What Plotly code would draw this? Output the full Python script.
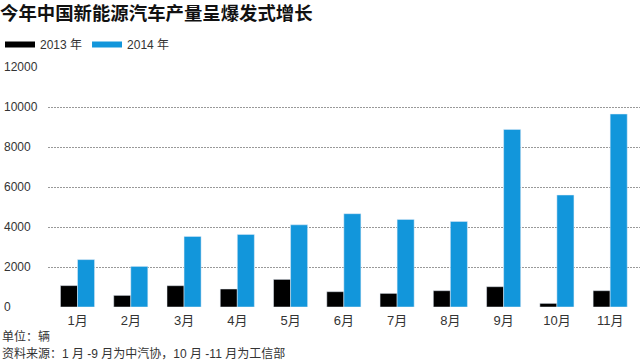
import plotly.graph_objects as go

months = ["1月", "2月", "3月", "4月", "5月", "6月", "7月", "8月", "9月", "10月", "11月"]
values_2013 = [1070, 580, 1065, 900, 1380, 765, 680, 815, 1015, 180, 815]
values_2014 = [2370, 2030, 3530, 3630, 4110, 4665, 4380, 4280, 8880, 5600, 9650]
y_ticks = [0, 2000, 4000, 6000, 8000, 10000, 12000]

BLUE = "#1296db"
BLACK = "#000000"
FONT = "Liberation Sans, Arial, Noto Sans CJK SC, sans-serif"

fig = go.Figure()
fig.add_trace(go.Bar(x=months, y=values_2013, name="2013 年", marker_color=BLACK,
                     showlegend=False, legendgroup="a"))
fig.add_trace(go.Bar(x=months, y=values_2014, name="2014 年", marker_color=BLUE,
                     showlegend=False, legendgroup="b"))
# legend swatches (wide bars as in the reference)
fig.add_trace(go.Scatter(x=[None], y=[None], mode="lines", name="2013 年",
                         line=dict(color=BLACK, width=6), legendgroup="a"))
fig.add_trace(go.Scatter(x=[None], y=[None], mode="lines", name="2014 年",
                         line=dict(color=BLUE, width=6), legendgroup="b"))
# helper trace for the left-aligned tick label axis
fig.add_trace(go.Scatter(x=[months[0]], y=[0], yaxis="y2", mode="markers",
                         marker=dict(opacity=0), showlegend=False, hoverinfo="skip"))

fig.update_layout(
    width=640, height=362,
    margin=dict(l=0, r=0, t=67, b=55),
    paper_bgcolor="white", plot_bgcolor="white",
    font=dict(family=FONT, size=12, color="#333333"),
    barmode="group", bargap=0.36, bargroupgap=0,
    title=dict(text="<b>今年中国新能源汽车产量呈爆发式增长</b>",
               x=0.0, xref="container", xanchor="left",
               y=1 - 14 / 362, yref="container", yanchor="middle",
               font=dict(size=18.4, color="#111111",
                         family="Noto Sans CJK SC, sans-serif")),
    legend=dict(orientation="h", x=-0.008, xanchor="left",
                y=1 - 44.5 / 362, yref="container", yanchor="middle",
                bgcolor="rgba(0,0,0,0)", font=dict(size=12, color="#333333"),
                traceorder="normal"),
    xaxis=dict(domain=[48 / 640, 1], range=[-0.554, 10.56], showgrid=False,
               showline=False, zeroline=False, ticks="", ticklabelstandoff=4,
               tickfont=dict(size=13, color="#333333")),
    yaxis=dict(range=[0, 12000], tickvals=y_ticks, showticklabels=False,
               showgrid=True, gridcolor="#999999", griddash="2px,1px", gridwidth=1,
               zeroline=False, showline=False, ticks=""),
    yaxis2=dict(overlaying="y", anchor="free", position=0, side="left",
                range=[0, 12000], tickvals=y_ticks, tickformat="d",
                ticklabelposition="inside", ticklabeloverflow="allow",
                showgrid=False, zeroline=False, showline=False, ticks="",
                tickfont=dict(size=12, color="#333333")),
    annotations=[
        dict(text="单位：辆", xref="paper", yref="paper", x=0, y=(307 - 336) / 240,
             xanchor="left", yanchor="middle", showarrow=False,
             font=dict(size=12, color="#333333")),
        dict(text="资料来源：1 月 -9 月为中汽协，10 月 -11 月为工信部",
             xref="paper", yref="paper", x=0, y=(307 - 353) / 240,
             xanchor="left", yanchor="middle", showarrow=False,
             font=dict(size=12, color="#333333")),
    ],
)

fig.write_html("out.html", config={"displayModeBar": False},
               post_script="document.body.style.margin='0';document.body.style.padding='0';")
